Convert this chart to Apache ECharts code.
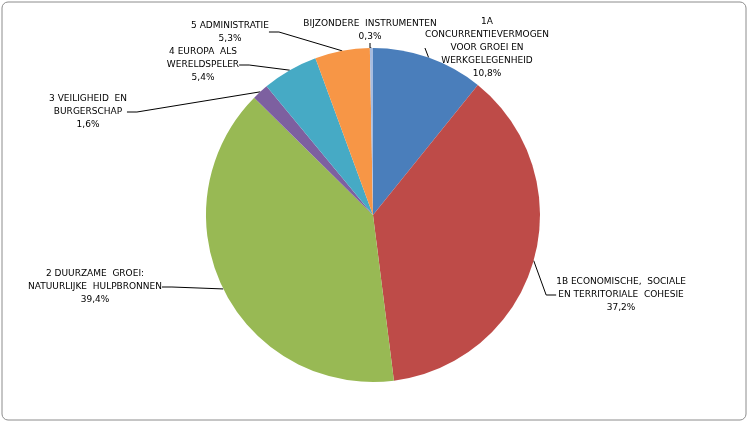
<!DOCTYPE html>
<html><head><meta charset="utf-8">
<script src="https://cdn.jsdelivr.net/npm/echarts@6/dist/echarts.min.js"></script>
<style>html,body{margin:0;padding:0;background:#fff}#chart{width:750px;height:424px}</style>
</head><body><div id="chart"></div>
<script>
var names = ['1A\nCONCURRENTIEVERMOGEN\nVOOR GROEI EN\nWERKGELEGENHEID', '1B ECONOMISCHE,  SOCIALE\nEN TERRITORIALE  COHESIE', '2 DUURZAME  GROEI:\nNATUURLIJKE  HULPBRONNEN', '3 VEILIGHEID  EN\nBURGERSCHAP', '4 EUROPA  ALS\nWERELDSPELER', '5 ADMINISTRATIE', 'BIJZONDERE  INSTRUMENTEN'];
var values = [10.8, 37.2, 39.4, 1.6, 5.4, 5.3, 0.3];
var colors = ['#4a7ebb', '#be4b48', '#98b954', '#7d60a0', '#46aac5', '#f79646', '#a6bce0'];
var labelPos = [[487, 48, 'center'], [621, 295, 'center'], [95, 287, 'center'], [88, 112, 'center'], [203, 65, 'center'], [230, 32, 'center'], [370, 30, 'center']];

var chart = echarts.init(document.getElementById('chart'));
chart.setOption({
  graphic: [{type: 'rect', shape: {x: 2, y: 2, width: 744, height: 418, r: 6}, style: {fill: 'none', stroke: '#8c8c8c', lineWidth: 1}}],
  series: [{
    type: 'pie',
    center: [373, 215],
    radius: 167,
    startAngle: 90,
    clockwise: true,
    animation: false,
    data: names.map(function (n, i) { return {name: n, value: values[i], itemStyle: {color: colors[i]}}; }),
    itemStyle: {borderColor: '#fff', borderWidth: 0},
    label: {
      show: true, color: '#000', fontSize: 9, lineHeight: 13, fontFamily: 'DejaVu Sans', align: 'center',
      formatter: function (p) { return p.name + '\n' + String(p.value).replace('.', ',') + '%'; }
    },
    labelLine: {show: true, lineStyle: {color: '#000', width: 1}, length: 10, length2: 10},
    labelLayout: function (p) {
      var q = labelPos[p.dataIndex];
      return {x: q[0], y: q[1], align: q[2], verticalAlign: 'middle', moveOverlap: false};
    }
  }]
});
</script></body></html>
